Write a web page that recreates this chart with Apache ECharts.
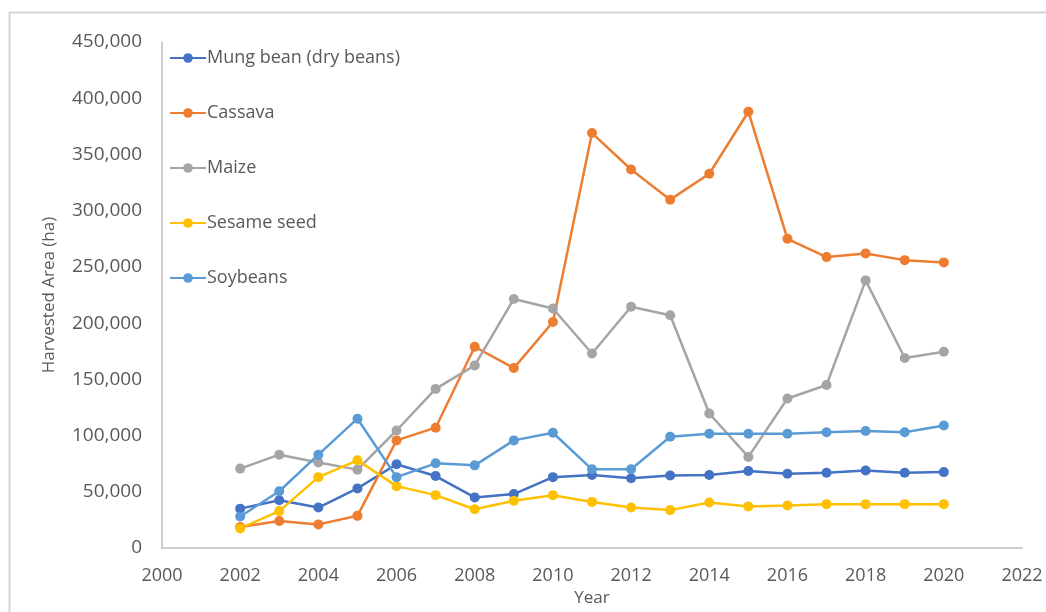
<!DOCTYPE html>
<html>
<head>
<meta charset="utf-8">
<script src="https://cdn.jsdelivr.net/npm/echarts@6/dist/echarts.min.js"></script>
<style>
  html, body { margin: 0; padding: 0; background: #ffffff; }
  #chart { width: 1046px; height: 612px; }
</style>
</head>
<body>
<div id="chart"></div>
<script>
// Harvested area by crop, 2002-2020
const years = [2002, 2003, 2004, 2005, 2006, 2007, 2008, 2009, 2010, 2011,
               2012, 2013, 2014, 2015, 2016, 2017, 2018, 2019, 2020];

const mungBean = [35000, 42500, 36000, 53000, 74500, 64000, 45000, 48000, 63000, 65000,
                  62000, 64500, 65000, 68500, 66000, 67000, 69000, 67000, 67500];
const cassava  = [18600, 24000, 21000, 28600, 95700, 107000, 179000, 160000, 201000, 369000,
                  336600, 309800, 332800, 388000, 275000, 258700, 262000, 256000, 254000];
const maize    = [70600, 83000, 76000, 69700, 104500, 141500, 162400, 221500, 213000, 173000,
                  214600, 207000, 119600, 81000, 133000, 145000, 238000, 169000, 174500];
const sesame   = [17400, 32800, 63000, 78000, 55000, 47000, 34500, 42000, 47000, 41000,
                  36000, 33700, 40500, 37000, 37800, 39000, 39000, 39000, 39000];
const soybeans = [28000, 50500, 83000, 115000, 63000, 75300, 73500, 95700, 102500, 70000,
                  70000, 99000, 101600, 101600, 101600, 103000, 104000, 103000, 109000];

const seriesNames = ['Mung bean (dry beans)', 'Cassava', 'Maize', 'Sesame seed', 'Soybeans'];
const seriesColors = ['#4472C4', '#ED7D31', '#A5A5A5', '#FFC000', '#5B9BD5'];
const seriesValues = [mungBean, cassava, maize, sesame, soybeans];

const textColor = '#595959';
const axisColor = '#BFBFBF';
const frameColor = '#D4D4D4';
const fontFamily = '"Open Sans", "Noto Sans", sans-serif';
const fontSize = 18;

const chart = echarts.init(document.getElementById('chart'), null, { renderer: 'canvas' });

chart.setOption({
  backgroundColor: '#ffffff',
  animation: false,
  textStyle: { fontFamily: fontFamily },
  // chart frame: top and left edges (the others run past the canvas)
  graphic: [
    {
      type: 'line',
      shape: { x1: 9, y1: 12.5, x2: 1046, y2: 12.5 },
      style: { stroke: frameColor, lineWidth: 2 },
      silent: true,
      z: -10
    },
    {
      type: 'line',
      shape: { x1: 9.5, y1: 12, x2: 9.5, y2: 612 },
      style: { stroke: frameColor, lineWidth: 2 },
      silent: true,
      z: -10
    }
  ],
  grid: { left: 162, right: 24, top: 42, bottom: 61, containLabel: false },
  legend: {
    orient: 'vertical',
    left: 164,
    top: 44,
    itemGap: 37,
    itemWidth: 36,
    itemHeight: 12,
    textStyle: { color: textColor, fontSize: 18, fontFamily: fontFamily, padding: [0, 0, 0, -4] },
    data: seriesNames
  },
  xAxis: {
    type: 'value',
    min: 2000,
    max: 2022,
    interval: 2,
    name: 'Year',
    nameLocation: 'middle',
    nameGap: 42,
    nameTextStyle: { color: textColor, fontSize: 17, fontFamily: fontFamily },
    axisLine: { show: true, lineStyle: { color: axisColor, width: 1.5 } },
    axisTick: { show: false },
    splitLine: { show: false },
    axisLabel: {
      color: textColor, fontSize: fontSize, fontFamily: fontFamily, margin: 19,
      formatter: v => String(v)
    }
  },
  yAxis: {
    type: 'value',
    min: 0,
    max: 450000,
    interval: 50000,
    name: 'Harvested Area (ha)',
    nameLocation: 'middle',
    nameGap: 104,
    nameRotate: 90,
    nameTextStyle: { color: textColor, fontSize: 17, fontFamily: fontFamily },
    axisLine: { show: true, lineStyle: { color: axisColor, width: 1.5 } },
    axisTick: { show: false },
    splitLine: { show: false },
    axisLabel: { color: textColor, fontSize: 19, fontFamily: fontFamily, margin: 20 }
  },
  series: seriesNames.map((name, i) => ({
    name: name,
    type: 'line',
    data: years.map((y, j) => [y, seriesValues[i][j]]),
    symbol: 'circle',
    symbolSize: 10,
    showSymbol: true,
    itemStyle: { color: seriesColors[i] },
    lineStyle: { color: seriesColors[i], width: 2.5 },
    emphasis: { disabled: true }
  }))
});
</script>
</body>
</html>
